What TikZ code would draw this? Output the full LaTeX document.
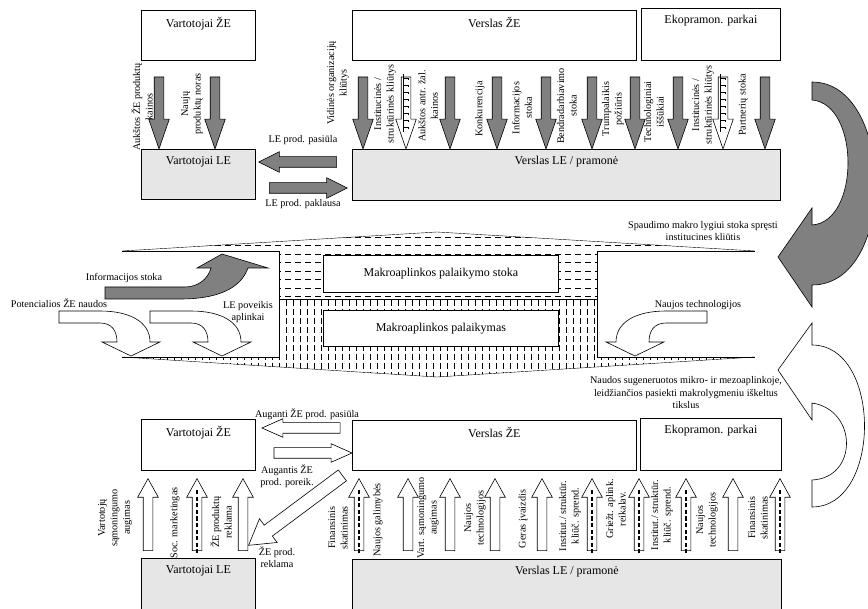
\documentclass[tikz,border=0pt]{standalone}
\usepackage{fontspec}
\setmainfont{Liberation Serif}
\usetikzlibrary{positioning,shapes.arrows,calc}
\definecolor{ltGray}{RGB}{230,230,230}
\definecolor{dkGray}{RGB}{128,128,128}

\begin{document}
\begin{tikzpicture}[x=1pt, y=-1pt,
  font=\fontsize{10.2}{12.5}\selectfont,
  box/.style={draw, line width=0.8pt, anchor=north west, inner sep=0pt},
  lebox/.style={box, fill=ltGray},
  title/.style={anchor=north, yshift=-4pt, font=\fontsize{12}{13}\selectfont},
  vlab/.style={rotate=90, align=center, inner sep=0pt},
  lab/.style={align=center, inner sep=0pt},
  blk/.style={single arrow, draw, line width=0.6pt, inner xsep=0pt, inner ysep=4.5pt,
    single arrow head extend=5.5pt},
  dnarr/.style={blk, fill=dkGray, rotate=-90, minimum height=72pt, single arrow tip angle=38},
  uparr/.style={blk, fill=white, rotate=90, minimum height=72pt, single arrow tip angle=58},
  harr/.style={blk, fill=dkGray, minimum height=78pt, inner ysep=5pt, single arrow head extend=5pt, single arrow tip angle=53},
  harrw/.style={harr, fill=white, single arrow head extend=4pt, single arrow tip angle=48},
  dashin/.style={line width=1.3pt, dash pattern=on 4pt off 2.5pt},
  hatch/.style={line width=0.75pt},
]
\useasboundingbox (0,0) rectangle (868,609);
\clip (0,0) rectangle (868,609);

% upper level: ZE and LE actors
\node[box, minimum width=114pt, minimum height=50pt] (vzTop) at (141,10) {};
\node[title] (vzTopT) at (vzTop.north) {Vartotojai ŽE};
\node[box, minimum width=284pt, minimum height=50pt] (bzTop) at (352,10) {};
\node[title] (bzTopT) at (bzTop.north) {Verslas ŽE};
\node[box, minimum width=139pt, minimum height=52pt] (ekTop) at (641,8) {};
\node[title] (ekTopT) at (ekTop.north) {Ekopramon. parkai};
\node[lebox, minimum width=114pt, minimum height=50pt] (vlTop) at (141,149) {};
\node[title] (vlTopT) at (vlTop.north) {Vartotojai LE};
\node[lebox, minimum width=428pt, minimum height=51pt] (blTop) at (352,149) {};
\node[title] (blTopT) at (blTop.north) {Verslas LE / pramonė};

% barriers
\foreach \x [count=\i] in {159,215}
  \node[dnarr] (vdn\i) at (\x,106) {};
\foreach \x [count=\i] in {363,450,497,546,592,635,678,765}
  \node[dnarr] (bdn\i) at (\x,106) {};
\foreach \x [count=\i] in {406,723}{
  \node[dnarr, fill=white] (rdn\i) at (\x,106) {};
  \draw[line width=0.5pt] (\x-2.5,74) -- (\x-2.5,132);
  \foreach \y in {78,85,...,128}
    \draw[line width=0.5pt] (\x-2.5,\y) -- (\x+2.5,\y) -- (\x+2.5,\y+2.5);
}
\node[vlab] (lAuk) at (142,107) {Aukštos ŽE produktų\\kainos};
\node[vlab] (lNau) at (192,104) {Naujų\\produktų noras};
\node[vlab] (lVid) at (338,83) {Vidinės organizacijų\\kliūtys};
\node[vlab] (lIns1) at (385,104) {Institucinės /\\struktūrinės kliūtys};
\node[vlab] (lAntr) at (428,106) {Aukštos antr. žal.\\kainos};
\node[vlab] (lKon) at (480,109) {Konkurencija};
\node[vlab] (lInf) at (522,108) {Informacijos\\stoka};
\node[vlab] (lBen) at (567,106) {Bendradarbiavimo\\stoka};
\node[vlab] (lTru) at (613,109) {Trumpalaikis\\požiūris};
\node[vlab] (lTec) at (654,112) {Technologiniai\\iššūkiai};
\node[vlab] (lIns2) at (703,105) {Institucinės /\\struktūrinės kliūtys};
\node[vlab] (lPar) at (743,105) {Partnerių stoka};

% LE market
\node[harr, rotate=180] (lePas) at (303,162) {};
\node[harr] (lePak) at (303,188) {};
\node[lab] (lPas) at (303,140) {LE prod. pasiūla};
\node[lab] (lPak) at (303,204) {LE prod. paklausa};

% macro level band
\begin{scope}
  \clip (122,251) -- (437,232) -- (755,251) -- (755,299) -- (122,299) -- cycle;
  \foreach \y in {237,245.5,...,299}
    \draw[hatch, dash pattern=on 6pt off 4pt] (115,\y) -- (760,\y);
\end{scope}
\begin{scope}
  \clip (122,299) -- (755,299) -- (755,357) -- (437,377) -- (122,357) -- cycle;
  \foreach \x in {125,132,...,755}
    \draw[hatch, dash pattern=on 6pt off 3pt] (\x,300) -- (\x,380);
\end{scope}
\fill[white] (121,251) rectangle (279,357);
\fill[white] (597,251) rectangle (756,357);
\draw (122,251) -- (279,251) -- (279,357) -- (122,357);
\draw (755,251) -- (597,251) -- (597,357) -- (755,357);
\draw (122,251) -- (437,232) -- (755,251);
\draw (122,357) -- (437,377) -- (755,357);
\draw (279,299) -- (597,299);
\node[box, fill=white, minimum width=235pt, minimum height=37pt, font=\fontsize{12}{13}\selectfont] (mStoka) at (323,255) {Makroaplinkos palaikymo stoka};
\node[box, fill=white, minimum width=235pt, minimum height=36pt, font=\fontsize{12}{13}\selectfont] (mPal) at (323,310) {Makroaplinkos palaikymas};

% bent arrows inside the band
\draw[fill=dkGray, line width=0.6pt] (105,287) -- (185,287) .. controls (198,287) and (208,279) .. (211,268)
  -- (197,268) -- (222,254) -- (268,268) -- (248,268) .. controls (240,290) and (215,299) .. (180,299) -- (105,299) -- cycle;
\foreach \dx in {0,91}
  \draw[fill=white, line width=0.6pt, xshift=\dx pt] (59,311) -- (100,311) .. controls (130,311) and (150,322) .. (150,342)
    -- (160,342) -- (131,356) -- (102,342) -- (117,342) .. controls (117,331) and (112,323) .. (100,323) -- (59,323) -- cycle;
\begin{scope}[shift={(766,0)}, xscale=-1]
  \draw[fill=white, line width=0.6pt] (59,311) -- (100,311) .. controls (130,311) and (150,322) .. (150,342)
    -- (160,342) -- (131,356) -- (102,342) -- (117,342) .. controls (117,331) and (112,323) .. (100,323) -- (59,323) -- cycle;
\end{scope}
\node[lab] (lInfS) at (124,278) {Informacijos stoka};
\node[lab] (lPot) at (59,303) {Potencialios ŽE naudos};
\node[lab] (lPov) at (248,312) {LE poveikis\\aplinkai};
\node[lab] (lNTm) at (698,305) {Naujos technologijos};

% feedback arrows on the right
\draw[fill=dkGray, line width=0.6pt] (812,82) .. controls (895,82) and (898,285) .. (812,285) -- (812,307) -- (778,257)
  -- (812,208) -- (812,225) .. controls (860,222) and (860,104) .. (812,100) -- cycle;
\draw[fill=white, line width=0.6pt] (812,480) -- (812,507) .. controls (882,507) and (882,345) .. (812,345) -- (812,323)
  -- (778,370) -- (812,420) -- (812,403) .. controls (858,410) and (858,478) .. (812,480) -- cycle;
\node[lab] (lSpa) at (703,231) {Spaudimo makro lygiui stoka spręsti\\institucines kliūtis};
\node[lab] (lNaud) at (686,393) {Naudos sugeneruotos mikro- ir mezoaplinkoje,\\leidžiančios pasiekti makrolygmeniu iškeltus\\tikslus};

% lower level after transition
\node[box, minimum width=114pt, minimum height=51pt] (vzBot) at (141,419) {};
\node[title] (vzBotT) at (vzBot.north) {Vartotojai ŽE};
\node[box, minimum width=284pt, minimum height=50pt] (bzBot) at (352,420) {};
\node[title] (bzBotT) at (bzBot.north) {Verslas ŽE};
\node[box, minimum width=141pt, minimum height=52pt] (ekBot) at (640,418) {};
\node[title] (ekBotT) at (ekBot.north) {Ekopramon. parkai};
\node[lebox, minimum width=114pt, minimum height=60pt] (vlBot) at (141,558) {};
\node[title] (vlBotT) at (vlBot.north) {Vartotojai LE};
\node[lebox, minimum width=429pt, minimum height=60pt] (blBot) at (352,559) {};
\node[title] (blBotT) at (blBot.north) {Verslas LE / pramonė};

% ZE market
\node[harrw, rotate=180] (agPas) at (307,428) {};
\node[harrw] (agPor) at (307,453) {};
\node[blk, fill=white, rotate=216.7, minimum height=117pt, inner ysep=6.5pt,
  single arrow head extend=8pt, single arrow tip angle=62] (zeRek) at (300,507) {};
\node[lab] (lAgP) at (307,414) {Auganti ŽE prod. pasiūla};
\node[lab] (lAgR) at (287,476) {Augantis ŽE\\prod. poreik.};
\node[lab] (lRek) at (277,557) {ŽE prod.\\reklama};

% drivers
\foreach \x [count=\i] in {148,197,243,359,408,450,495,542,592,639,686,733,780}
  \node[uparr] (up\i) at (\x,519) {};
\foreach \x in {197,359,592,639,686,780}
  \draw[dashin] (\x,553) -- (\x,489);
\node[vlab] (lVsa) at (115,518) {Vartotojų\\sąmoningumo\\augimas};
\node[vlab] (lSoc) at (175,523) {Soc. marketingas};
\node[vlab] (lZEr) at (221,522) {ŽE produktų\\reklama};
\node[vlab] (lFin1) at (338,528) {Finansinis\\skatinimas};
\node[vlab] (lGal) at (378,520) {Naujos galimybės};
\node[vlab] (lVart) at (428,518) {Vart. sąmoningumo\\augimas};
\node[vlab] (lNT1) at (475,518) {Naujos\\technologijos};
\node[vlab] (lGer) at (523,519) {Geras įvaizdis};
\node[vlab] (lInst1) at (570,516) {Institut./ struktūr.\\kliūč. sprend.};
\node[vlab] (lGri) at (616,509) {Griežt. aplink.\\reikalav.};
\node[vlab] (lInst2) at (662,515) {Institut./ struktūr.\\kliūč. sprend.};
\node[vlab] (lNT2) at (707,520) {Naujos\\technologijos};
\node[vlab] (lFin2) at (758,518) {Finansinis\\skatinimas};
\end{tikzpicture}
\end{document}
